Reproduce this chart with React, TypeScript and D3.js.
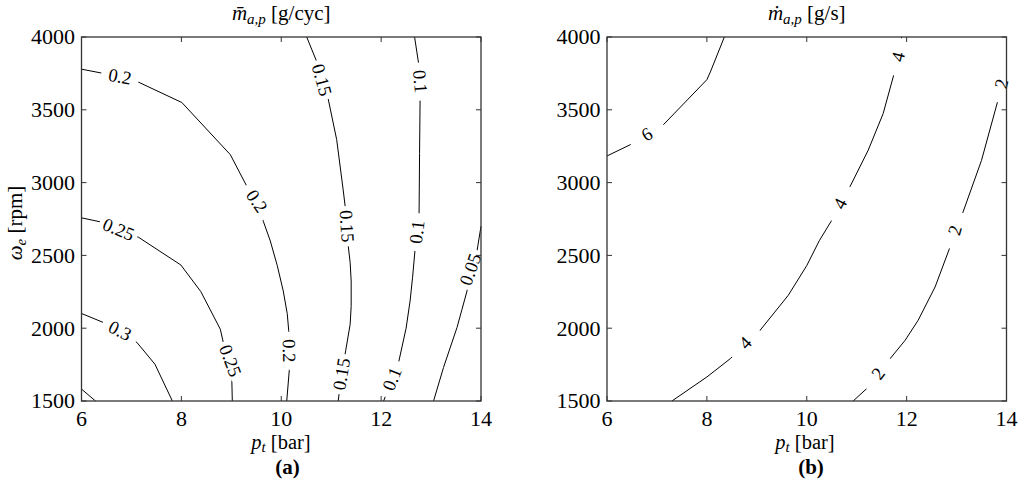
import React from "react";
import * as d3 from "d3";

// [p_t in bar, omega_e in rpm]
type Pt = [number, number];

interface Contour {
  level: string;
  points: Pt[];
  labels: Pt[];
}

const pressureTicks = [6, 8, 10, 12, 14];
const speedTicks = [1500, 2000, 2500, 3000, 3500, 4000];

// (a) mean air mass per cycle [g/cyc]
const cyc035: Pt[] = [[6.0, 1582], [6.28, 1500]];
const cyc030: Pt[] = [[6.0, 2101], [6.44, 2039], [6.77, 1982], [7.11, 1902], [7.47, 1753], [7.82, 1500]];
const cyc030Labels: Pt[] = [[6.77, 1982]];
const cyc025: Pt[] = [
  [6.0, 2758], [6.37, 2731], [6.74, 2678], [7.14, 2625], [7.99, 2434], [8.39, 2251],
  [8.78, 1993], [8.84, 1902], [8.98, 1776], [9.01, 1651], [9.02, 1500],
];
const cyc025Labels: Pt[] = [[6.74, 2678], [8.98, 1776]];
const cyc020: Pt[] = [
  [6.0, 3779], [6.77, 3728], [7.14, 3690], [8.01, 3550], [8.98, 3192], [9.31, 2975],
  [9.51, 2872], [9.64, 2735], [9.78, 2600], [9.92, 2430], [10.04, 2256], [10.12, 2100],
  [10.15, 1982], [10.16, 1708], [10.11, 1500],
];
const cyc020Labels: Pt[] = [[6.77, 3728], [9.51, 2872], [10.15, 1845]];
const cyc015: Pt[] = [
  [10.51, 4000], [10.71, 3831], [10.81, 3705], [10.93, 3591], [11.11, 3295], [11.24, 2950],
  [11.3, 2780], [11.33, 2600], [11.38, 2450], [11.4, 2324], [11.4, 2150], [11.38, 2027],
  [11.29, 1845], [11.21, 1685], [11.14, 1500],
];
const cyc015Labels: Pt[] = [[10.81, 3705], [11.31, 2700], [11.21, 1685]];
const cyc010: Pt[] = [
  [12.67, 4000], [12.75, 3820], [12.78, 3694], [12.78, 3568], [12.77, 3200], [12.76, 2781],
  [12.72, 2660], [12.68, 2541], [12.63, 2350], [12.58, 2187], [12.5, 2000], [12.35, 1765],
  [12.22, 1651], [12.05, 1500],
];
const cyc010Labels: Pt[] = [[12.78, 3694], [12.72, 2660], [12.22, 1651]];
const cyc005: Pt[] = [
  [14.0, 2700], [13.92, 2530], [13.79, 2404], [13.72, 2256], [13.62, 2130], [13.52, 2005],
  [13.25, 1731], [13.05, 1500],
];
const cyc005Labels: Pt[] = [[13.79, 2404]];

// (b) air mass flow [g/s]
const flow6: Pt[] = [[6.0, 3183], [6.47, 3261], [6.8, 3332], [7.12, 3394], [8.0, 3707], [8.07, 3760], [8.35, 4000]];
const flow6Labels: Pt[] = [[6.8, 3332]];
const flow4: Pt[] = [
  [7.3, 1500], [8.0, 1665], [8.47, 1791], [8.77, 1898], [9.05, 1979], [9.63, 2226],
  [10.0, 2430], [10.25, 2600], [10.5, 2741], [10.67, 2856], [10.87, 2975], [11.23, 3222],
  [11.53, 3474], [11.75, 3749], [11.83, 3863], [11.9, 4000],
];
const flow4Labels: Pt[] = [[8.77, 1898], [10.67, 2856], [11.83, 3863]];
const flow2: Pt[] = [
  [10.93, 1500], [11.2, 1585], [11.43, 1688], [11.67, 1791], [11.97, 1917], [12.23, 2054],
  [12.57, 2283], [12.87, 2558], [12.97, 2672], [13.13, 2798], [13.5, 3153], [13.82, 3554],
  [13.9, 3680], [14.0, 3800],
];
const flow2Labels: Pt[] = [[11.43, 1688], [12.97, 2672], [13.9, 3680]];

const perCycle: Contour[] = [
  { level: "0.35", points: cyc035, labels: [] },
  { level: "0.3", points: cyc030, labels: cyc030Labels },
  { level: "0.25", points: cyc025, labels: cyc025Labels },
  { level: "0.2", points: cyc020, labels: cyc020Labels },
  { level: "0.15", points: cyc015, labels: cyc015Labels },
  { level: "0.1", points: cyc010, labels: cyc010Labels },
  { level: "0.05", points: cyc005, labels: cyc005Labels },
];

const perSecond: Contour[] = [
  { level: "6", points: flow6, labels: flow6Labels },
  { level: "4", points: flow4, labels: flow4Labels },
  { level: "2", points: flow2, labels: flow2Labels },
];

const FONT = "Liberation Serif, DejaVu Serif, serif";
const TOP = 37;
const BOTTOM = 401;
const PLOT_W = 399.5;
const TICK = 5;
const TICK_SIZE = 22;
const LABEL_SIZE = 18.5;
const AXIS = "#333";

type Scale = d3.ScaleLinear<number, number>;

// snap a label onto the nearest segment of its contour and get the text angle
function placeLabel(points: Pt[], at: Pt, x: Scale, y: Scale) {
  const px = points.map(p => [x(p[0]), y(p[1])]);
  const qx = x(at[0]);
  const qy = y(at[1]);
  let best = { d: Infinity, cx: qx, cy: qy, ang: 0 };
  for (let i = 0; i < px.length - 1; i++) {
    const [ax, ay] = px[i];
    const [bx, by] = px[i + 1];
    const dx = bx - ax;
    const dy = by - ay;
    const len2 = dx * dx + dy * dy || 1;
    const t = Math.max(0, Math.min(1, ((qx - ax) * dx + (qy - ay) * dy) / len2));
    const cx = ax + t * dx;
    const cy = ay + t * dy;
    const d = Math.hypot(qx - cx, qy - cy);
    if (d < best.d) best = { d, cx, cy, ang: (Math.atan2(dy, dx) * 180) / Math.PI };
  }
  let a = best.ang;
  while (a > 90) a -= 180;
  while (a <= -90) a += 180;
  return { x: best.cx, y: best.cy, angle: a };
}

const textWidth = (s: string) =>
  s.split("").reduce((w, c) => w + (c === "." ? 0.25 : 0.5), 0) * LABEL_SIZE;

interface PanelProps {
  x0: number;
  contours: Contour[];
  title: React.ReactNode;
  tag: string;
  tagX: number;
  xLabelX: number;
}

const Panel: React.FC<PanelProps> = ({ x0, contours, title, tag, tagX, xLabelX }) => {
  const x = d3.scaleLinear().domain([6, 14]).range([x0, x0 + PLOT_W]);
  const y = d3.scaleLinear().domain([1500, 4000]).range([BOTTOM, TOP]);
  const line = d3
    .line<Pt>()
    .x(d => x(d[0]))
    .y(d => y(d[1]));
  const fmt = d3.format("d");

  return (
    <g>
      {contours.map(c => (
        <path key={c.level} d={line(c.points) ?? ""} fill="none" stroke="#000" strokeWidth={1} />
      ))}
      {contours.map(c =>
        c.labels.map((at, i) => {
          const p = placeLabel(c.points, at, x, y);
          const w = Math.max(38, textWidth(c.level) + 8);
          return (
            <g key={`${c.level}-${i}`} transform={`translate(${p.x},${p.y}) rotate(${p.angle})`}>
              <rect x={-w / 2} y={-6} width={w} height={12} fill="#fff" />
              <text textAnchor="middle" dy="0.33em" fontFamily={FONT} fontSize={LABEL_SIZE} fill="#000">
                {c.level}
              </text>
            </g>
          );
        })
      )}

      {/* box with inward ticks on all four sides */}
      <rect x={x0} y={TOP} width={PLOT_W} height={BOTTOM - TOP} fill="none" stroke={AXIS} strokeWidth={1.3} />
      {pressureTicks.map(t => (
        <g key={`x${t}`}>
          <line x1={x(t)} x2={x(t)} y1={BOTTOM} y2={BOTTOM - TICK} stroke={AXIS} />
          <line x1={x(t)} x2={x(t)} y1={TOP} y2={TOP + TICK} stroke={AXIS} />
          <text x={x(t)} y={426} textAnchor="middle" fontFamily={FONT} fontSize={TICK_SIZE} fill="#000">
            {fmt(t)}
          </text>
        </g>
      ))}
      {speedTicks.map(t => (
        <g key={`y${t}`}>
          <line x1={x0} x2={x0 + TICK} y1={y(t)} y2={y(t)} stroke={AXIS} />
          <line x1={x0 + PLOT_W} x2={x0 + PLOT_W - TICK} y1={y(t)} y2={y(t)} stroke={AXIS} />
          <text x={x0 - 6.5} y={y(t)} dy="0.34em" textAnchor="end" fontFamily={FONT} fontSize={TICK_SIZE} fill="#000">
            {fmt(t)}
          </text>
        </g>
      ))}

      <text x={x0 + PLOT_W / 2} y={19.5} textAnchor="middle" fontFamily={FONT} fontSize={21} fill="#000">
        {title}
      </text>
      <text x={xLabelX} y={448.5} textAnchor="middle" fontFamily={FONT} fontSize={20.5} fill="#000">
        <tspan fontStyle="italic">p</tspan>
        <tspan fontStyle="italic" fontSize={15} dy={3}>t</tspan>
        <tspan dy={-3}> [bar]</tspan>
      </text>
      <text x={tagX} y={473.5} textAnchor="middle" fontFamily={FONT} fontSize={21} fontWeight="bold" fill="#000">
        {tag}
      </text>
    </g>
  );
};

const App: React.FC = () => {
  return (
    <svg
      width={1024}
      height={487}
      style={{ position: "absolute", left: 0, top: 0, background: "#fff" }}
    >
      <rect width={1024} height={487} fill="#fff" />
      <Panel
        x0={81.5}
        contours={perCycle}
        tag="(a)"
        tagX={287.5}
        xLabelX={281}
        title={
          <>
            <tspan fontStyle="italic">{"m\u0304"}</tspan>
            <tspan fontStyle="italic" fontSize={15} dy={4}>a,p</tspan>
            <tspan dy={-4}> [g/cyc]</tspan>
          </>
        }
      />
      <Panel
        x0={607}
        contours={perSecond}
        tag="(b)"
        tagX={811}
        xLabelX={805}
        title={
          <>
            <tspan fontStyle="italic">{"\u1E41"}</tspan>
            <tspan fontStyle="italic" fontSize={15} dy={4}>a,p</tspan>
            <tspan dy={-4}> [g/s]</tspan>
          </>
        }
      />
      <text
        transform="translate(22,223) rotate(-90)"
        textAnchor="middle"
        fontFamily={FONT}
        fontSize={21}
        fill="#000"
      >
        <tspan fontStyle="italic">ω</tspan>
        <tspan fontStyle="italic" fontSize={15} dy={4}>e</tspan>
        <tspan dy={-4}> [rpm]</tspan>
      </text>
    </svg>
  );
};

export default App;
